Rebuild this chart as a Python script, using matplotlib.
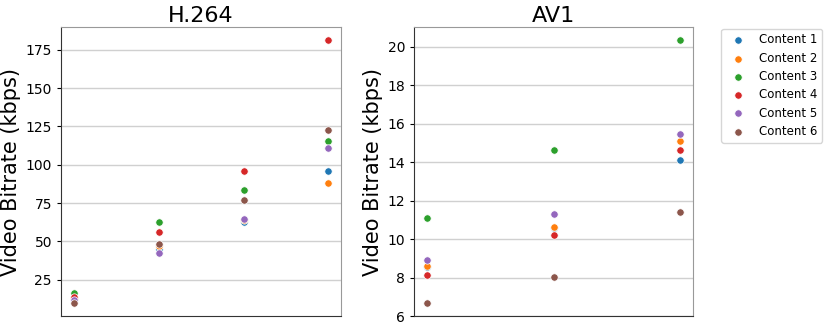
import matplotlib
matplotlib.use('Agg')
import matplotlib.pyplot as plt

contents = ['Content 1', 'Content 2', 'Content 3', 'Content 4', 'Content 5', 'Content 6']
colors = ['#1f77b4', '#ff7f0e', '#2ca02c', '#d62728', '#9467bd', '#8c564b']

# bitrate per quality level, one list per content
h264_levels = [0, 1, 2, 3]
h264 = [
    [12.0, 45.1, 62.8, 95.9],
    [12.8, 46.8, 63.8, 88.1],
    [16.3, 62.3, 83.8, 115.6],
    [13.8, 56.0, 95.9, 181.3],
    [11.8, 42.2, 64.8, 111.0],
    [9.5, 48.4, 77.0, 122.4],
]

av1_levels = [0, 1, 2]
av1 = [
    [8.55, 10.6, 14.15],
    [8.63, 10.64, 15.12],
    [11.09, 14.63, 20.35],
    [8.16, 10.22, 14.67],
    [8.94, 11.34, 15.5],
    [6.68, 8.05, 11.4],
]

fig = plt.figure(figsize=(8.3, 3.3), dpi=100)
ax1 = fig.add_axes([0.0735, 0.041, 0.3375, 0.877])
ax2 = fig.add_axes([0.499, 0.041, 0.336, 0.877])

for ax, levels, data, title in [(ax1, h264_levels, h264, 'H.264'), (ax2, av1_levels, av1, 'AV1')]:
    for i, vals in enumerate(data):
        ax.scatter(levels, vals, s=28, color=colors[i], edgecolors='white',
                   linewidths=0.5, label=contents[i], zorder=3)
    ax.set_title(title, fontsize=16, pad=4)
    ax.set_ylabel('Video Bitrate (kbps)', fontsize=15, labelpad=3)
    ax.set_xticks([])
    ax.grid(axis='y', color='#d0d0d0', linewidth=1)
    ax.set_axisbelow(True)
    ax.tick_params(axis='y', labelsize=10, length=3)
    ax.spines['top'].set_color('#999999')
    ax.spines['right'].set_color('#999999')
    ax.spines['left'].set_color('#333333')
    ax.spines['bottom'].set_color('#333333')

ax1.set_yticks([25, 50, 75, 100, 125, 150, 175])
ax2.set_yticks([6, 8, 10, 12, 14, 16, 18, 20])

ax2.legend(loc='upper left', bbox_to_anchor=(1.08, 1.015), fontsize=8.5,
           frameon=True, handletextpad=0.8, labelspacing=0.45)

fig.savefig('out.png', dpi=100)
